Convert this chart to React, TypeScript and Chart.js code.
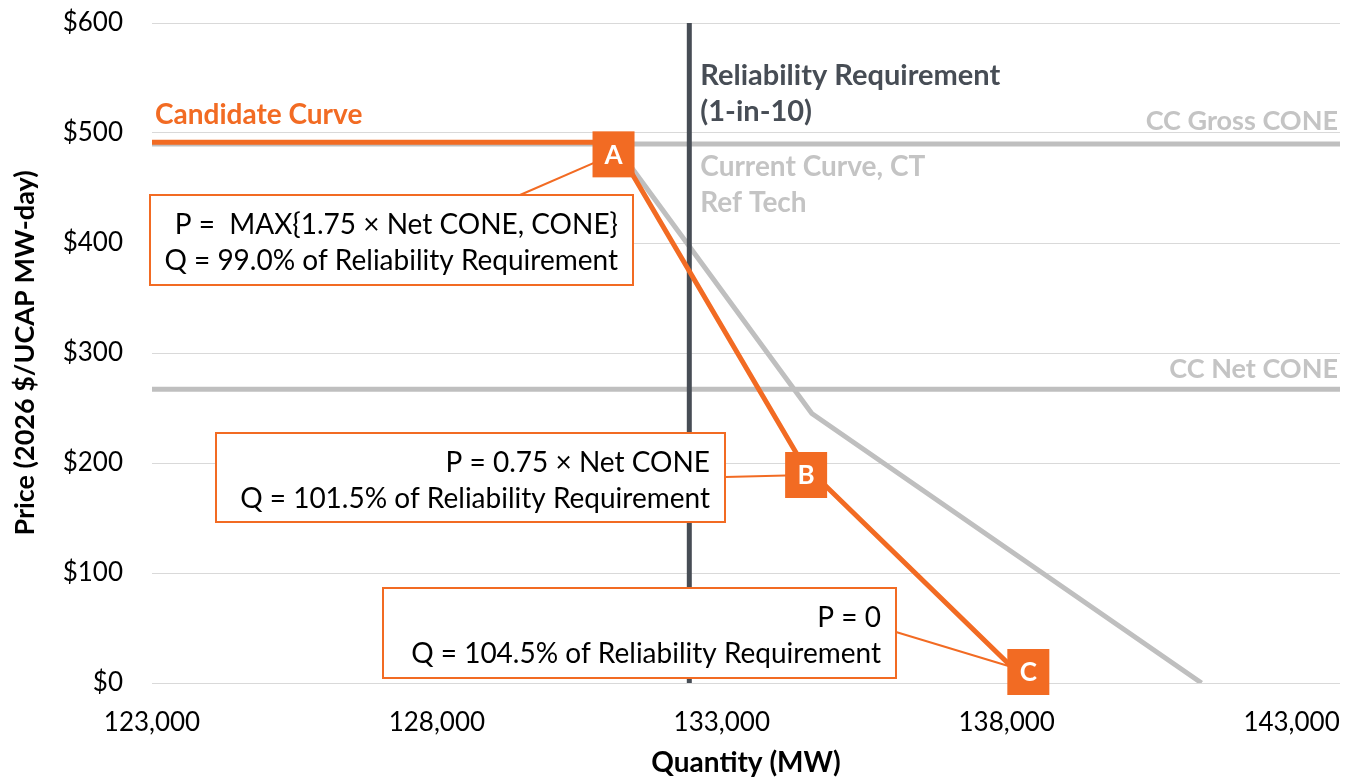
import React, { useEffect, useRef } from 'react';
import { Chart, registerables } from 'chart.js';

Chart.register(...registerables);

// ---------- data ----------
const xMin = 123000;
const xMax = 143850;
const xTicks = [123000, 128000, 133000, 138000, 143000];
const yTicks = [0, 100, 200, 300, 400, 500, 600];

const candidateQ = [123000, 131100, 134410, 138380];
const candidateP = [491.5, 491.5, 200, 0];
const candidateMarkers = ['', 'A', 'B', 'C'];

const currentQ = [131100, 134580, 141420];
const currentP = [491, 245, 0];

const grossCone = 490;
const netCone = 267;
const reliabilityRequirement = 132430;

const annotationA = ['P =  MAX{1.75 \u00d7 Net CONE, CONE}', 'Q = 99.0% of Reliability Requirement'];
const annotationB = ['P = 0.75 \u00d7 Net CONE', 'Q = 101.5% of Reliability Requirement'];
const annotationC = ['P = 0', 'Q = 104.5% of Reliability Requirement'];

// ---------- style ----------
const FONT = 'Lato, "Open Sans", "DejaVu Sans", sans-serif';
const ORANGE = '#f26b23';
const GRAY = '#bfbfbf';
const LABEL_GRAY = '#c4c4c4';
const DARK = '#474d55';
const TXT = 26;
const BOX_TXT = 28;

// annotation box layout (pixels): x, y, w, h and leader start point on the box
const boxes = [
  { lines: annotationA, x: 150, y: 195, w: 483, h: 90, lx: 520, ly: 195, marker: 1 },
  { lines: annotationB, x: 216, y: 433, w: 509, h: 89, lx: 725, ly: 477, marker: 2 },
  { lines: annotationC, x: 383, y: 588, w: 513, h: 90, lx: 896, ly: 632, marker: 3 },
];
const markerOffsets = [
  [0, 0],
  [0, 12],
  [4, 12],
  [0, -11],
];

const pts = (xs: number[], ys: number[]) => xs.map((x, i) => ({ x, y: ys[i] }));

const annotPlugin = {
  id: 'annot',
  afterDatasetsDraw(chart: any) {
    const { ctx, chartArea: a, scales } = chart;
    const x = scales.x;
    const y = scales.y;
    ctx.save();
    ctx.textBaseline = 'middle';

    // line labels
    ctx.font = `bold 28px ${FONT}`;
    ctx.fillStyle = ORANGE;
    ctx.textAlign = 'left';
    ctx.fillText('Candidate Curve', a.left + 3, y.getPixelForValue(candidateP[0]) - 27);

    ctx.font = `bold 27px ${FONT}`;
    ctx.fillStyle = LABEL_GRAY;
    ctx.textAlign = 'right';
    ctx.fillText('CC Gross CONE', a.right - 2, y.getPixelForValue(grossCone) - 23);
    ctx.fillText('CC Net CONE', a.right - 2, y.getPixelForValue(netCone) - 20);

    const rrX = x.getPixelForValue(reliabilityRequirement);
    ctx.textAlign = 'left';
    ctx.fillStyle = DARK;
    ctx.font = `bold 29px ${FONT}`;
    ctx.fillText('Reliability Requirement', rrX + 11, a.top + 53);
    ctx.fillText('(1-in-10)', rrX + 11, a.top + 89);
    ctx.font = `bold 28px ${FONT}`;
    ctx.fillStyle = LABEL_GRAY;
    const gy = y.getPixelForValue(grossCone);
    ctx.fillText('Current Curve, CT', rrX + 11, gy + 23);
    ctx.fillText('Ref Tech', rrX + 11, gy + 59);

    const markerCenter = (i: number) => [
      x.getPixelForValue(candidateQ[i]) + markerOffsets[i][0],
      y.getPixelForValue(candidateP[i]) + markerOffsets[i][1],
    ];

    // annotation boxes and leaders
    for (const b of boxes) {
      const [mx, my] = markerCenter(b.marker);
      ctx.strokeStyle = ORANGE;
      ctx.lineWidth = 2;
      ctx.beginPath();
      ctx.moveTo(b.lx, b.ly);
      ctx.lineTo(mx, my);
      ctx.stroke();
      ctx.fillStyle = '#fff';
      ctx.fillRect(b.x, b.y, b.w, b.h);
      ctx.strokeRect(b.x, b.y, b.w, b.h);
      ctx.fillStyle = '#000';
      ctx.font = `${BOX_TXT}px ${FONT}`;
      ctx.textAlign = 'right';
      ctx.fillText(b.lines[0], b.x + b.w - 15, b.y + 30);
      ctx.fillText(b.lines[1], b.x + b.w - 15, b.y + 66);
    }

    // markers
    for (let i = 0; i < candidateMarkers.length; i++) {
      if (!candidateMarkers[i]) continue;
      const [mx, my] = markerCenter(i);
      ctx.fillStyle = ORANGE;
      ctx.fillRect(mx - 21, my - 23, 42, 46);
      ctx.fillStyle = '#fff';
      ctx.font = `bold ${TXT}px ${FONT}`;
      ctx.textAlign = 'center';
      ctx.fillText(candidateMarkers[i], mx, my + 1);
    }
    ctx.restore();
  },
};

export default function App() {
  const ref = useRef<HTMLCanvasElement>(null);
  useEffect(() => {
    document.body.style.margin = '0';
    const canvas = ref.current!;
    const chart = new Chart(canvas, {
      type: 'scatter',
      data: {
        datasets: [
          {
            label: 'Candidate Curve',
            data: pts(candidateQ, candidateP),
            showLine: true,
            borderColor: ORANGE,
            backgroundColor: ORANGE,
            borderWidth: 5,
            pointRadius: 0,
          },
          {
            label: 'Reliability Requirement',
            data: pts([reliabilityRequirement, reliabilityRequirement], [0, 600]),
            showLine: true,
            borderColor: DARK,
            borderWidth: 5,
            pointRadius: 0,
          },
          {
            label: 'Current Curve',
            data: pts(currentQ, currentP),
            showLine: true,
            borderColor: GRAY,
            borderWidth: 5,
            pointRadius: 0,
          },
          {
            label: 'CC Net CONE',
            data: pts([xMin, xMax], [netCone, netCone]),
            showLine: true,
            borderColor: GRAY,
            borderWidth: 5,
            pointRadius: 0,
          },
          {
            label: 'CC Gross CONE',
            data: pts([xMin, xMax], [grossCone, grossCone]),
            showLine: true,
            borderColor: GRAY,
            borderWidth: 5,
            pointRadius: 0,
          },
        ],
      },
      options: {
        animation: false,
        responsive: false,
        devicePixelRatio: 1,
        layout: { padding: { left: 0, right: 11, top: 23, bottom: 0 } },
        plugins: { legend: { display: false }, tooltip: { enabled: false } },
        scales: {
          x: {
            type: 'linear',
            min: xMin,
            max: xMax,
            afterBuildTicks: (s: any) => {
              s.ticks = xTicks.map((v) => ({ value: v }));
            },
            afterFit: (s: any) => {
              s.height = 97;
            },
            ticks: {
              autoSkip: false,
              maxRotation: 0,
              padding: 0,
              color: '#000',
              font: { family: FONT, size: TXT },
              callback: (v: any) => Number(v).toLocaleString('en-US'),
            },
            grid: {
              display: true,
              drawOnChartArea: false,
              drawTicks: true,
              tickLength: 24,
              color: 'rgba(0,0,0,0)',
              tickColor: 'rgba(0,0,0,0)',
            },
            border: { display: false },
            title: {
              display: true,
              text: 'Quantity (MW)',
              color: '#000',
              font: { family: FONT, size: 28, weight: 'bold' },
              padding: { top: 0, bottom: 0 },
            },
          },
          y: {
            type: 'linear',
            min: 0,
            max: 600,
            afterBuildTicks: (s: any) => {
              s.ticks = yTicks.map((v) => ({ value: v }));
            },
            afterFit: (s: any) => {
              s.width = 152;
            },
            ticks: {
              padding: 0,
              color: '#000',
              font: { family: FONT, size: TXT },
              callback: (v: any) => '$' + v,
            },
            grid: {
              color: '#d9d9d9',
              lineWidth: 1,
              drawTicks: true,
              tickLength: 29,
              tickColor: 'rgba(0,0,0,0)',
            },
            border: { display: false },
            title: {
              display: true,
              text: 'Price (2026 $/UCAP MW-day)',
              color: '#000',
              font: { family: FONT, size: 27, weight: 'bold' },
              padding: { top: 9, bottom: 0 },
            },
          },
        },
      },
      plugins: [annotPlugin],
    });
    return () => chart.destroy();
  }, []);
  return <canvas ref={ref} width={1351} height={780} style={{ display: 'block' }} />;
}
